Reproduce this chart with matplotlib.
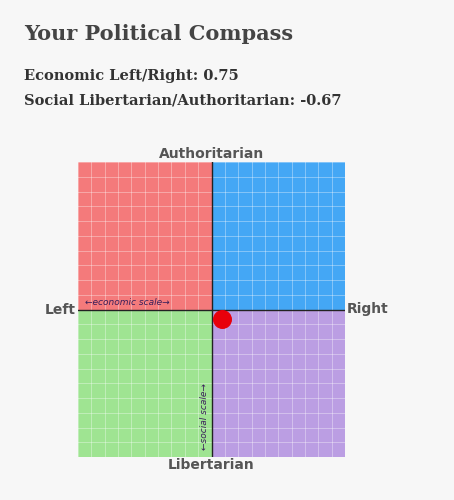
import matplotlib
matplotlib.use("Agg")
import matplotlib.pyplot as plt
from matplotlib.patches import Rectangle

economic = 0.75
social = -0.67
quadrants = [(-10, 0, "#f47a7b"), (0, 0, "#44a7f5"), (-10, -10, "#9fe492"), (0, -10, "#bb9ee3")]

fig = plt.figure(figsize=(4.54, 5.0), dpi=100, facecolor="#f7f7f7")
fig.text(24/454, 1-34/500, "Your Political Compass", fontsize=15, fontweight="bold",
         family="DejaVu Serif", color="#444444", va="center")
fig.text(24/454, 1-76/500, f"Economic Left/Right: {economic}", fontsize=10.5, fontweight="bold",
         family="DejaVu Serif", color="#333333", va="center")
fig.text(24/454, 1-100/500, f"Social Libertarian/Authoritarian: {social}", fontsize=10.5,
         fontweight="bold", family="DejaVu Serif", color="#333333", va="center")

ax = fig.add_axes([78/454, 43/500, 267/454, 295/500])
for x0, y0, c in quadrants:
    ax.add_patch(Rectangle((x0, y0), 10, 10, facecolor=c, edgecolor="none", zorder=0))
for v in range(-10, 11):
    ax.axvline(v, color="white", alpha=0.35, lw=0.7, zorder=1)
    ax.axhline(v, color="white", alpha=0.35, lw=0.7, zorder=1)
ax.axhline(0, color="#222222", lw=1, zorder=2)
ax.axvline(0, color="#222222", lw=1, zorder=2)
ax.scatter([economic], [social], s=160, color="#e8000b", zorder=3)
ax.set_xlim(-10, 10)
ax.set_ylim(-10, 10)
ax.set_xticks([]); ax.set_yticks([])
for s in ax.spines.values():
    s.set_visible(False)
ax.text(-9.5, 0.2, "←economic scale→", fontsize=6.5, style="italic", color="#3a1f5a", va="bottom")
ax.text(-0.2, -9.5, "←social scale→", fontsize=6.5, style="italic", color="#3a1f5a",
        rotation=90, ha="right", va="bottom")
kw = dict(fontsize=10, fontweight="bold", color="#555555")
ax.text(0, 10.1, "Authoritarian", ha="center", va="bottom", **kw)
ax.text(0, -10.1, "Libertarian", ha="center", va="top", **kw)
ax.text(-10.2, 0, "Left", ha="right", va="center", **kw)
ax.text(10.1, 0, "Right", ha="left", va="center", **kw)
fig.savefig("out.png", dpi=100, facecolor=fig.get_facecolor())
